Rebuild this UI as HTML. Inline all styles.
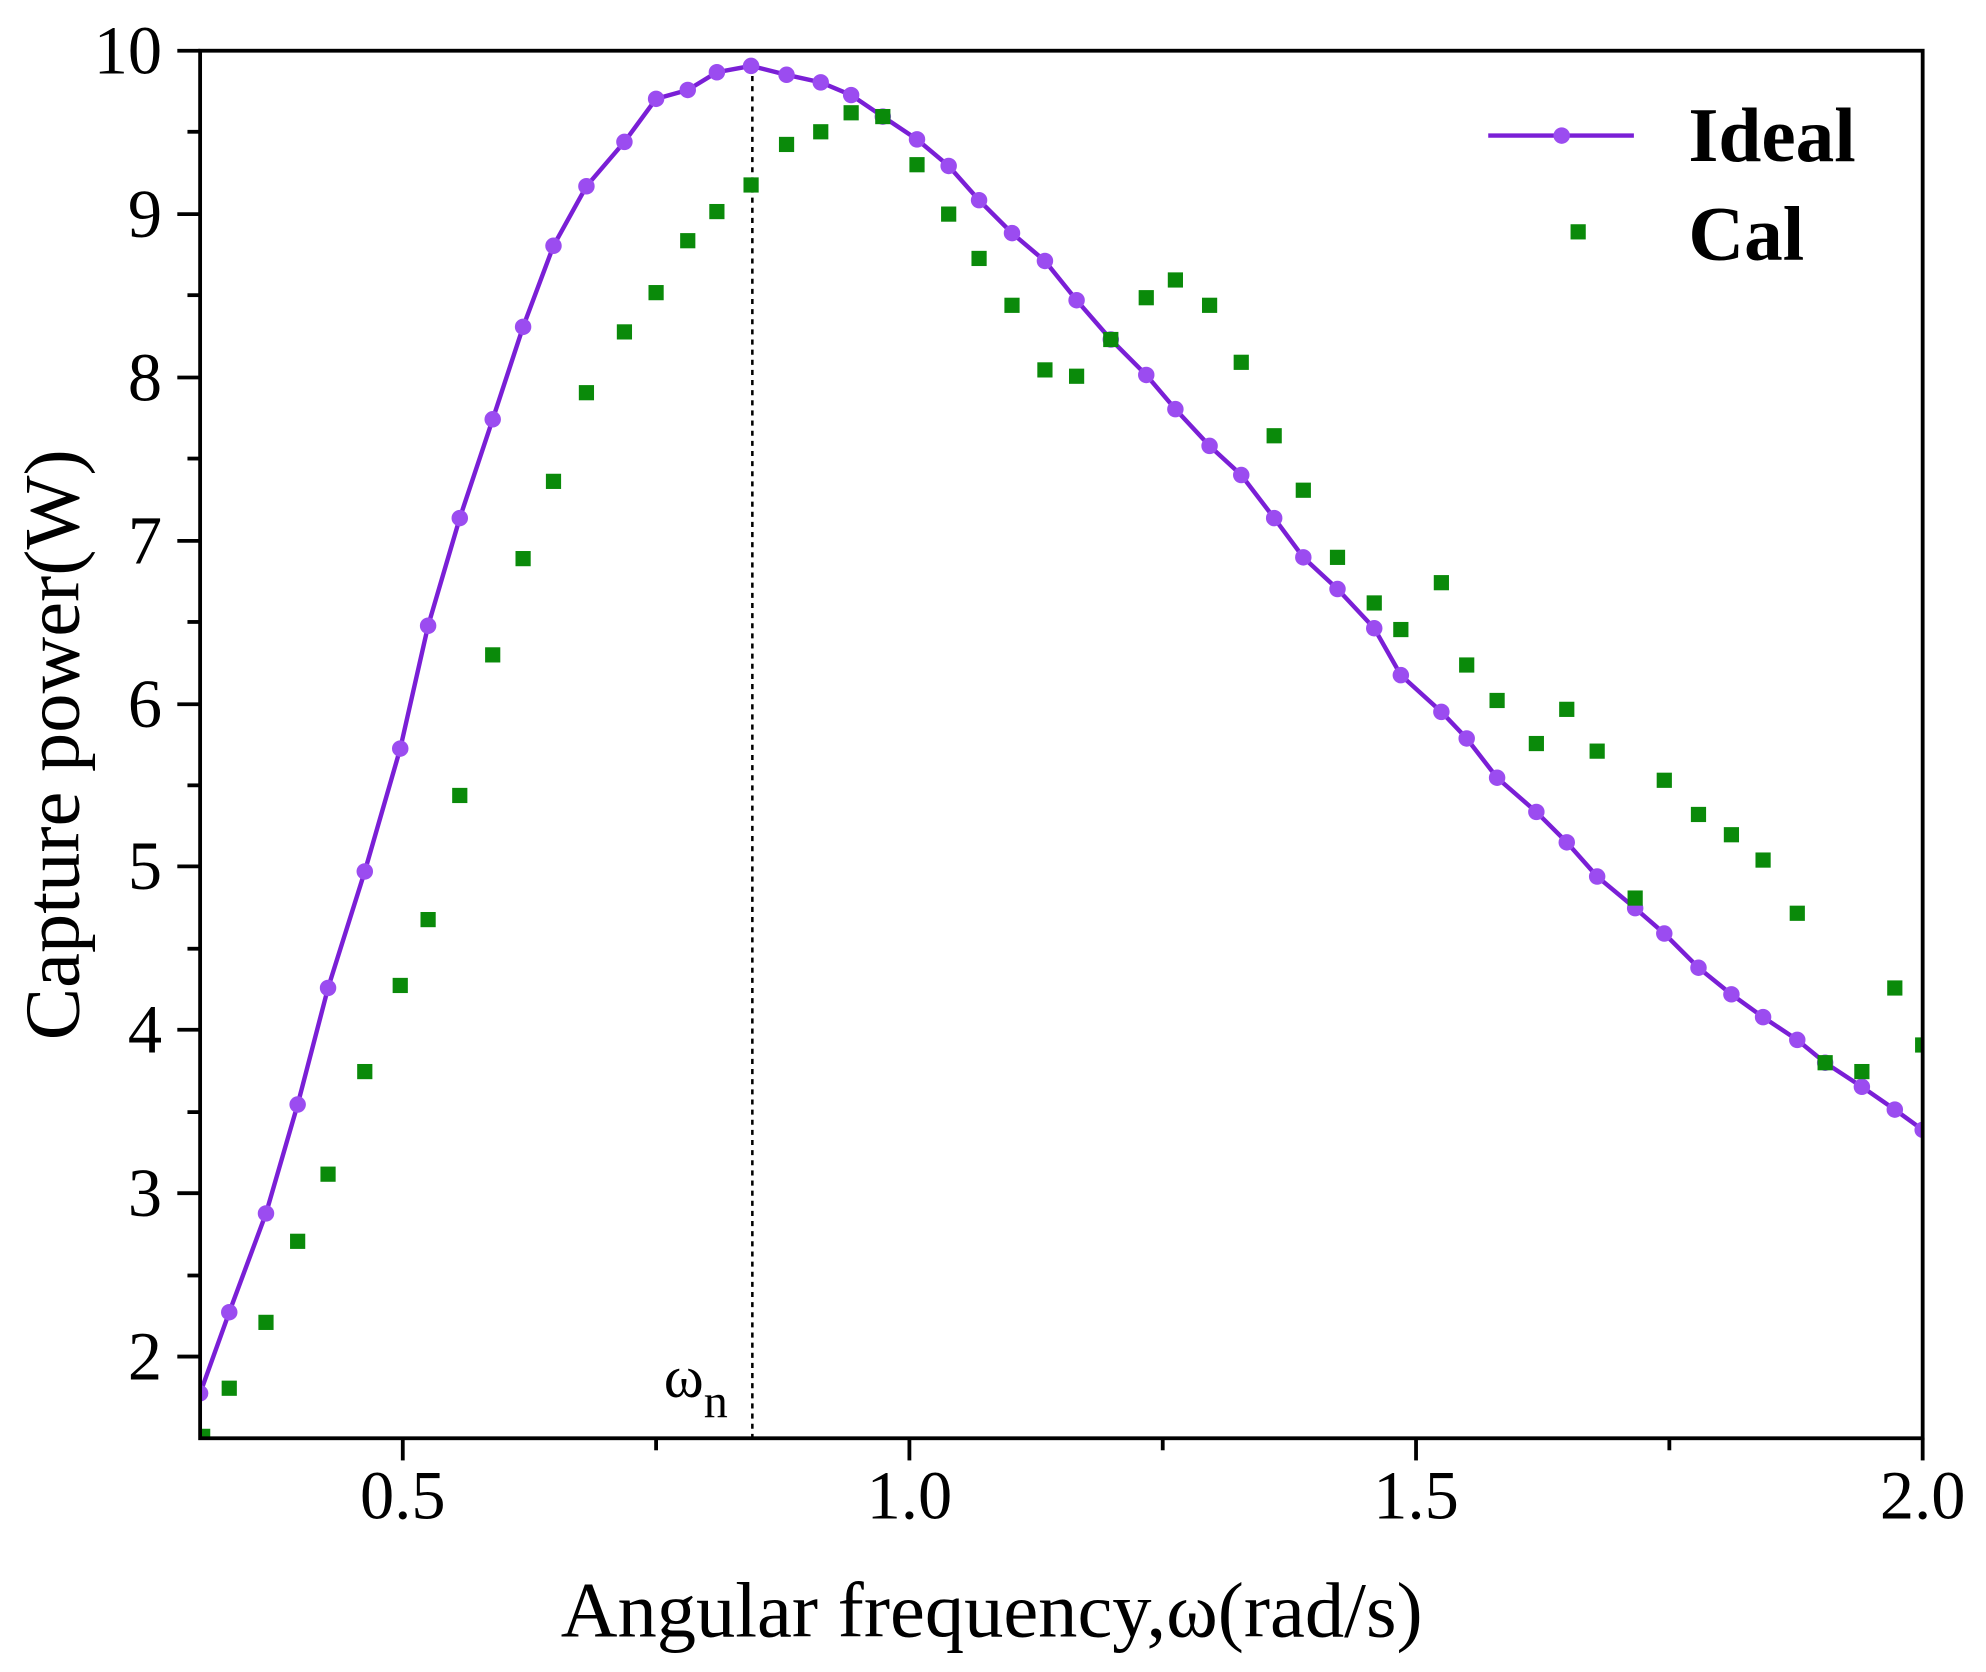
<!DOCTYPE html>
<html><head><meta charset="utf-8"><style>html,body{margin:0;padding:0;background:#fff}svg{display:block}</style></head>
<body>
<svg width="1986" height="1672" viewBox="0 0 1568 1320" xmlns="http://www.w3.org/2000/svg" font-family="Liberation Serif, serif">
<rect width="1568" height="1320" fill="#fff"/>
<defs><clipPath id="c"><rect x="158" y="40" width="1360" height="1096"/></clipPath>
<circle id="o" r="6.5" fill="#9b4cf0"/><rect id="s" x="-6" y="-6" width="12" height="12" fill="#0a8a0a"/></defs>
<line x1="594" y1="52" x2="594" y2="1135" stroke="#000" stroke-width="2" stroke-dasharray="4,4"/>
<g clip-path="url(#c)">
<polyline fill="none" stroke="#7a1fd6" stroke-width="3.5" points="158,1100 181,1036 210,958 235,872 259,780 288,688 316,591 338,494 363,409 389,331 413,258 437,194 463,147 493,112 518,78 543,71 566,57 593,52 621,59 648,65 672,75 697,92 724,110 749,131 773,158 799,184 825,206 850,237 877,268 905,296 928,323 955,352 980,375 1006,409 1029,440 1056,465 1085,496 1106,533 1138,562 1158,583 1182,614 1213,641 1237,665 1261,692 1291,717 1314,737 1341,764 1367,785 1392,803 1419,821 1441,839 1470,858 1496,876 1518,892"/>
<use href="#o" x="158" y="1100"/><use href="#o" x="181" y="1036"/><use href="#o" x="210" y="958"/><use href="#o" x="235" y="872"/><use href="#o" x="259" y="780"/><use href="#o" x="288" y="688"/><use href="#o" x="316" y="591"/><use href="#o" x="338" y="494"/><use href="#o" x="363" y="409"/><use href="#o" x="389" y="331"/><use href="#o" x="413" y="258"/><use href="#o" x="437" y="194"/><use href="#o" x="463" y="147"/><use href="#o" x="493" y="112"/><use href="#o" x="518" y="78"/><use href="#o" x="543" y="71"/><use href="#o" x="566" y="57"/><use href="#o" x="593" y="52"/><use href="#o" x="621" y="59"/><use href="#o" x="648" y="65"/><use href="#o" x="672" y="75"/><use href="#o" x="697" y="92"/><use href="#o" x="724" y="110"/><use href="#o" x="749" y="131"/><use href="#o" x="773" y="158"/><use href="#o" x="799" y="184"/><use href="#o" x="825" y="206"/><use href="#o" x="850" y="237"/><use href="#o" x="877" y="268"/><use href="#o" x="905" y="296"/><use href="#o" x="928" y="323"/><use href="#o" x="955" y="352"/><use href="#o" x="980" y="375"/><use href="#o" x="1006" y="409"/><use href="#o" x="1029" y="440"/><use href="#o" x="1056" y="465"/><use href="#o" x="1085" y="496"/><use href="#o" x="1106" y="533"/><use href="#o" x="1138" y="562"/><use href="#o" x="1158" y="583"/><use href="#o" x="1182" y="614"/><use href="#o" x="1213" y="641"/><use href="#o" x="1237" y="665"/><use href="#o" x="1261" y="692"/><use href="#o" x="1291" y="717"/><use href="#o" x="1314" y="737"/><use href="#o" x="1341" y="764"/><use href="#o" x="1367" y="785"/><use href="#o" x="1392" y="803"/><use href="#o" x="1419" y="821"/><use href="#o" x="1441" y="839"/><use href="#o" x="1470" y="858"/><use href="#o" x="1496" y="876"/><use href="#o" x="1518" y="892"/>
<use href="#s" x="160" y="1134"/><use href="#s" x="181" y="1096"/><use href="#s" x="210" y="1044"/><use href="#s" x="235" y="980"/><use href="#s" x="259" y="927"/><use href="#s" x="288" y="846"/><use href="#s" x="316" y="778"/><use href="#s" x="338" y="726"/><use href="#s" x="363" y="628"/><use href="#s" x="389" y="517"/><use href="#s" x="413" y="441"/><use href="#s" x="437" y="380"/><use href="#s" x="463" y="310"/><use href="#s" x="493" y="262"/><use href="#s" x="518" y="231"/><use href="#s" x="543" y="190"/><use href="#s" x="566" y="167"/><use href="#s" x="593" y="146"/><use href="#s" x="621" y="114"/><use href="#s" x="648" y="104"/><use href="#s" x="672" y="89"/><use href="#s" x="697" y="92"/><use href="#s" x="724" y="130"/><use href="#s" x="749" y="169"/><use href="#s" x="773" y="204"/><use href="#s" x="799" y="241"/><use href="#s" x="825" y="292"/><use href="#s" x="850" y="297"/><use href="#s" x="877" y="268"/><use href="#s" x="905" y="235"/><use href="#s" x="928" y="221"/><use href="#s" x="955" y="241"/><use href="#s" x="980" y="286"/><use href="#s" x="1006" y="344"/><use href="#s" x="1029" y="387"/><use href="#s" x="1056" y="440"/><use href="#s" x="1085" y="476"/><use href="#s" x="1106" y="497"/><use href="#s" x="1138" y="460"/><use href="#s" x="1158" y="525"/><use href="#s" x="1182" y="553"/><use href="#s" x="1213" y="587"/><use href="#s" x="1237" y="560"/><use href="#s" x="1261" y="593"/><use href="#s" x="1291" y="709"/><use href="#s" x="1314" y="616"/><use href="#s" x="1341" y="643"/><use href="#s" x="1367" y="659"/><use href="#s" x="1392" y="679"/><use href="#s" x="1419" y="721"/><use href="#s" x="1441" y="839"/><use href="#s" x="1470" y="846"/><use href="#s" x="1496" y="780"/><use href="#s" x="1518" y="825"/>
</g>
<rect x="158" y="40" width="1360" height="1095.5" fill="none" stroke="#000" stroke-width="3"/>
<g stroke="#000" stroke-width="3">
<line x1="318" y1="1135" x2="318" y2="1153"/><line x1="718" y1="1135" x2="718" y2="1153"/><line x1="1118" y1="1135" x2="1118" y2="1153"/><line x1="1518" y1="1135" x2="1518" y2="1153"/>
<line x1="518" y1="1135" x2="518" y2="1145"/><line x1="918" y1="1135" x2="918" y2="1145"/><line x1="1318" y1="1135" x2="1318" y2="1145"/>
<line x1="140" y1="40" x2="158" y2="40"/><line x1="140" y1="169" x2="158" y2="169"/><line x1="140" y1="298" x2="158" y2="298"/><line x1="140" y1="427" x2="158" y2="427"/><line x1="140" y1="556" x2="158" y2="556"/><line x1="140" y1="684" x2="158" y2="684"/><line x1="140" y1="813" x2="158" y2="813"/><line x1="140" y1="942" x2="158" y2="942"/><line x1="140" y1="1071" x2="158" y2="1071"/>
<line x1="148" y1="104" x2="158" y2="104"/><line x1="148" y1="233" x2="158" y2="233"/><line x1="148" y1="362" x2="158" y2="362"/><line x1="148" y1="491" x2="158" y2="491"/><line x1="148" y1="620" x2="158" y2="620"/><line x1="148" y1="749" x2="158" y2="749"/><line x1="148" y1="878" x2="158" y2="878"/><line x1="148" y1="1007" x2="158" y2="1007"/>
</g>
<g font-size="54" text-anchor="end">
<text x="128" y="58">10</text><text x="128" y="187">9</text><text x="128" y="316">8</text><text x="128" y="445">7</text><text x="128" y="574">6</text><text x="128" y="702">5</text><text x="128" y="831">4</text><text x="128" y="960">3</text><text x="128" y="1089">2</text>
</g>
<g font-size="54" text-anchor="middle">
<text x="318" y="1199">0.5</text><text x="718" y="1199">1.0</text><text x="1118" y="1199">1.5</text><text x="1518" y="1199">2.0</text>
</g>
<text x="783" y="1292" font-size="62" text-anchor="middle">Angular frequency,ω(rad/s)</text>
<text transform="translate(62,588) rotate(-90)" font-size="62" text-anchor="middle">Capture power(W)</text>
<text x="524" y="1103" font-size="48">ω<tspan font-size="38" dy="16">n</tspan></text>
<line x1="1175" y1="107" x2="1290" y2="107" stroke="#7a1fd6" stroke-width="3.5"/>
<circle cx="1233" cy="107" r="6.5" fill="#9b4cf0"/>
<rect x="1240" y="177" width="12" height="12" fill="#0a8a0a"/>
<text x="1333" y="127" font-size="61" font-weight="bold">Ideal</text>
<text x="1333" y="205" font-size="61" font-weight="bold">Cal</text>
</svg>
</body></html>
